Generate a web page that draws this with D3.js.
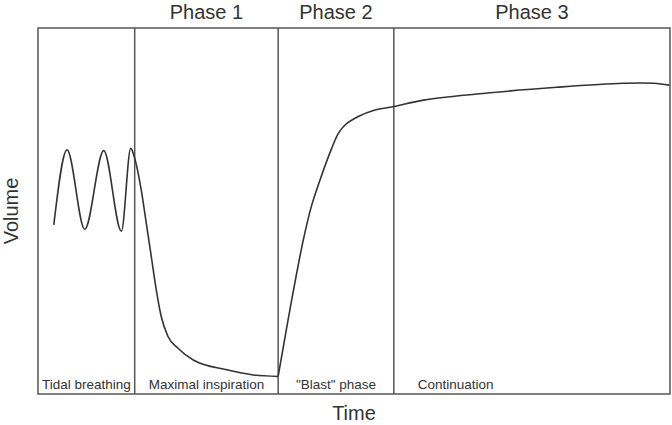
<!DOCTYPE html>
<html>
<head>
<meta charset="utf-8">
<script src="https://cdn.jsdelivr.net/npm/d3@7/dist/d3.min.js"></script>
<style>
  html, body { margin: 0; padding: 0; background: #fff; }
  svg { display: block; font-family: "Liberation Sans", Arial, Helvetica, sans-serif; }
</style>
</head>
<body>
<svg id="chart" width="672" height="425"></svg>
<script>
// ---- data (time and volume in arbitrary units) ----
const inspirationTime   = [0.25, 0.46, 0.74, 1.04, 1.32, 1.467, 1.53, 1.634, 1.714, 1.793, 1.872, 1.951, 2.057, 2.215, 2.457, 2.986, 3.407, 3.80];
const inspirationVolume = [4.62, 6.67, 4.50, 6.65, 4.45, 6.71,  6.44, 5.57,  4.66,  3.75,  2.84,  2.11,  1.57,  1.25,  0.93,  0.66,  0.52,  0.48];
const expirationTime    = [3.80, 4.014, 4.198, 4.331, 4.489, 4.647, 4.752, 4.858, 5.068, 5.332, 5.622, 6.10, 7.15, 8.21, 9.26, 9.74, 9.99];
const expirationVolume  = [0.48, 2.57,  4.21,  5.16,  5.98,  6.71,  7.12,  7.35,  7.58,  7.76,  7.85,  8.03, 8.23, 8.38, 8.49, 8.49, 8.44];
const phaseBounds  = [0, 1.53, 3.80, 5.63, 10];
const phaseTitles  = ["", "Phase 1", "Phase 2", "Phase 3"];
const phaseNotes   = ["Tidal breathing", "Maximal inspiration", "\"Blast\" phase", "Continuation"];
const xLabel = "Time";
const yLabel = "Volume";

// ---- layout ----
const W = 672, H = 425;
const m = { left: 38, right: 2, top: 28, bottom: 31 };
const svg = d3.select("#chart");
const x = d3.scaleLinear().domain([0, 10]).range([m.left, W - m.right]);
const y = d3.scaleLinear().domain([0, 10]).range([H - m.bottom, m.top]);

const frameColor = "#555";
const lineColor = "#333";
const textColor = "#333";

// frame
svg.append("rect")
  .attr("x", x(0)).attr("y", y(10))
  .attr("width", x(10) - x(0)).attr("height", y(0) - y(10))
  .attr("fill", "none").attr("stroke", frameColor).attr("stroke-width", 1.5);

// phase dividers
svg.selectAll("line.div").data(phaseBounds.slice(1, -1)).enter().append("line")
  .attr("class", "div")
  .attr("x1", d => x(d)).attr("x2", d => x(d))
  .attr("y1", y(10)).attr("y2", y(0))
  .attr("stroke", frameColor).attr("stroke-width", 1.5);

// curve
const line1 = d3.line().x(d => x(d[0])).y(d => y(d[1])).curve(d3.curveMonotoneX);
const line2 = d3.line().x(d => x(d[0])).y(d => y(d[1])).curve(d3.curveCatmullRom.alpha(0.5));
const seg1 = inspirationTime.map((t, i) => [t, inspirationVolume[i]]);
const seg2 = expirationTime.map((t, i) => [t, expirationVolume[i]]);
[[seg1, line1], [seg2, line2]].forEach(([seg, gen]) => {
  svg.append("path").datum(seg)
    .attr("d", gen)
    .attr("fill", "none").attr("stroke", lineColor).attr("stroke-width", 1.6)
    .attr("stroke-linejoin", "round");
});

// phase titles
phaseTitles.forEach((t, i) => {
  if (!t) return;
  svg.append("text")
    .attr("x", (x(phaseBounds[i]) + x(phaseBounds[i + 1])) / 2)
    .attr("y", 18.5)
    .attr("text-anchor", "middle")
    .attr("font-size", 20)
    .attr("fill", textColor)
    .text(t);
});

// phase notes
phaseNotes.forEach((t, i) => {
  const last = i === phaseNotes.length - 1;
  svg.append("text")
    .attr("x", last ? x(phaseBounds[i]) + 24 : (x(phaseBounds[i]) + x(phaseBounds[i + 1])) / 2)
    .attr("y", 388.5)
    .attr("text-anchor", last ? "start" : "middle")
    .attr("font-size", 13.5)
    .attr("fill", textColor)
    .text(t);
});

// axis labels
svg.append("text")
  .attr("x", (x(0) + x(10)) / 2).attr("y", 420)
  .attr("text-anchor", "middle").attr("font-size", 20).attr("fill", textColor)
  .text(xLabel);
svg.append("text")
  .attr("transform", `translate(18,${(y(0) + y(10)) / 2}) rotate(-90)`)
  .attr("text-anchor", "middle").attr("font-size", 20).attr("fill", textColor)
  .text(yLabel);
</script>
</body>
</html>
